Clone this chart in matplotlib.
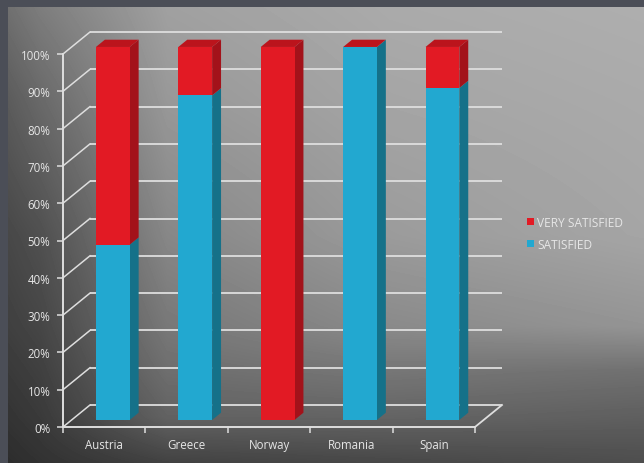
import numpy as np
import matplotlib
matplotlib.use("Agg")
import matplotlib.pyplot as plt
from matplotlib.patches import Polygon, Patch

# ---------------- data ----------------
categories = ["Austria", "Greece", "Norway", "Romania", "Spain"]
satisfied = [47, 87, 0, 100, 89]
very_satisfied = [53, 13, 100, 0, 11]
series_names = ["SATISFIED", "VERY SATISFIED"]
y_ticks = list(range(0, 101, 10))
y_tick_labels = [f"{v}%" for v in y_ticks]

# ---------------- style ----------------
plt.rcParams['font.family'] = ['Open Sans', 'DejaVu Sans']
W, H, DPI = 644, 464, 100
fig = plt.figure(figsize=(W / DPI, H / DPI), dpi=DPI)
fig.patch.set_facecolor('#4b4e57')

# background gradient panel
bg = fig.add_axes([8 / W, 0, (W - 8) / W, (H - 8) / H])
bg.set_axis_off()
gx = [0.0, 0.05, 0.25, 0.6, 1.0]
gy = [0.0, 0.2, 0.5, 0.7, 0.8, 0.9, 1.0]
grid = np.array([
    [112, 125, 160, 170, 174],
    [92, 105, 152, 165, 170],
    [72, 80, 135, 155, 165],
    [64, 70, 120, 138, 148],
    [58, 64, 110, 118, 112],
    [52, 58, 98, 100, 95],
    [45, 50, 66, 72, 78],
], dtype=float)
nx, ny = 636, 456
xx = np.linspace(0, 1, nx)
yy = np.linspace(0, 1, ny)
rows = np.array([np.interp(xx, gx, r) for r in grid])
img = np.array([np.interp(yy, gy, rows[:, j]) for j in range(nx)]).T / 255.0
bg.imshow(img, cmap='gray', vmin=0, vmax=1, aspect='auto', interpolation='bilinear')

# main axes (front plane)
ax = fig.add_axes([63 / W, 36 / H, 412 / W, 373 / H])
ax.set_xlim(0, len(categories))
ax.set_ylim(0, 100)
ax.patch.set_visible(False)

line_c = '#dedede'
DX, DY = 27 / 82.4, 22 / 3.73  # wall depth in data units

# back wall gridlines + left wall diagonals
for v in y_ticks:
    ax.plot([DX, len(categories) + DX], [v + DY, v + DY], color=line_c, lw=1.3,
            zorder=1, clip_on=False, solid_capstyle='butt')
    ax.plot([0, DX], [v, v + DY], color=line_c, lw=1.1, zorder=1, clip_on=False)
# floor right edge
ax.plot([len(categories), len(categories) + DX], [0, DY], color=line_c, lw=1.3,
        zorder=1, clip_on=False)

# bars
red_front, red_side, red_top = '#e21a24', '#a3121a', '#bb141c'
blue_front, blue_side, blue_top = '#22a8d0', '#157189', '#1a8db0'
colors = [(blue_front, blue_side, blue_top), (red_front, red_side, red_top)]
bw = 0.41
f0, f1 = 0.32, 0.65


def P(x, y, f):
    return (x + f * DX, y + f * DY)


stack = [satisfied, very_satisfied]
for i, cat in enumerate(categories):
    x0 = i + 0.5 - bw / 2
    x1 = i + 0.5 + bw / 2
    base = 0
    for s, vals in enumerate(stack):
        v = vals[i]
        top = base + v
        fc, sc, tc = colors[s]
        if v > 0:
            side = [P(x1, base, f0), P(x1, base, f1), P(x1, top, f1), P(x1, top, f0)]
            ax.add_patch(Polygon(side, closed=True, fc=sc, ec='none', zorder=3, clip_on=False))
            front = [P(x0, base, f0), P(x1, base, f0), P(x1, top, f0), P(x0, top, f0)]
            ax.add_patch(Polygon(front, closed=True, fc=fc, ec='none', zorder=4, clip_on=False))
        if s == len(stack) - 1:
            tface = [P(x0, top, f0), P(x1, top, f0), P(x1, top, f1), P(x0, top, f1)]
            ax.add_patch(Polygon(tface, closed=True, fc=tc, ec='none', zorder=5, clip_on=False))
        base = top

# spines / ticks
for sp in ['top', 'right']:
    ax.spines[sp].set_visible(False)
for sp in ['left', 'bottom']:
    ax.spines[sp].set_color(line_c)
    ax.spines[sp].set_linewidth(1.4)
    ax.spines[sp].set_zorder(6)

txt_c = '#e6e6e6'
ax.set_yticks(y_ticks)
ax.set_yticklabels(y_tick_labels)
ax.tick_params(axis='y', colors=line_c, labelcolor=txt_c, labelsize=8.3, length=4,
               width=1.1, pad=5)
ax.set_xticks([i + 0.5 for i in range(len(categories))])
ax.set_xticklabels(categories)
ax.set_xticks(range(len(categories) + 1), minor=True)
ax.tick_params(axis='x', which='major', length=0, pad=8, labelcolor=txt_c, labelsize=8.3)
ax.tick_params(axis='x', which='minor', length=4, width=1.1, colors=line_c)

# legend
handles = [Patch(fc=red_front, ec='none'), Patch(fc=blue_front, ec='none')]
leg = fig.legend(handles, ["VERY SATISFIED", "SATISFIED"], loc='upper left',
                 bbox_to_anchor=(527 / W, 1 - 217 / H), frameon=False,
                 fontsize=8.6, labelcolor=txt_c, handlelength=0.55, handleheight=0.55,
                 handletextpad=0.3, labelspacing=0.75, borderpad=0, borderaxespad=0)

fig.savefig('out.png', dpi=DPI, facecolor=fig.get_facecolor())
